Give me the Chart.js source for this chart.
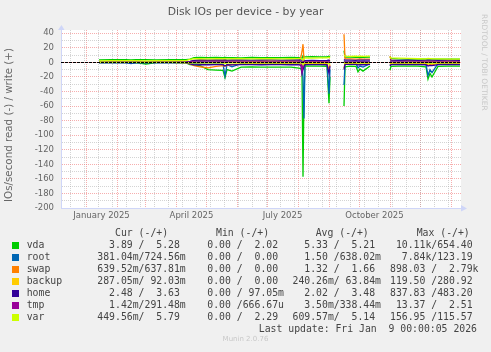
<!DOCTYPE html>
<html lang="en">
<head>
    <meta charset="UTF-8">
    <title>Disk IOs per device - by year</title>
    <script src="https://cdn.jsdelivr.net/npm/chart.js"></script>
    <style>
        html, body { margin: 0; padding: 0; background: #f0f0f0; }
        #wrap { position: relative; width: 491px; height: 352px; overflow: hidden; }
        #chart { position: absolute; left: 0; top: 0; }
        .leg { position: absolute; white-space: pre; font-family: 'DejaVu Sans Mono', monospace;
               font-size: 9.8px; line-height: 12px; color: #444; }
        .box { position: absolute; width: 7px; height: 7px; }
        #munin { position: absolute; left: 0; width: 491px; top: 335px; text-align: center;
                 font-family: 'DejaVu Sans', sans-serif; font-size: 7px; color: #c8c8c8; }
    </style>
</head>
<body>
<div id="wrap">
    <canvas id="chart" width="491" height="352"></canvas>
    <div id="legend"></div>
    <div id="munin">Munin 2.0.76</div>
</div>

<script>
    // days since 1 Jan 2025 (x positions of the samples), null rows = no data
    const days = [13, 25, 40, 45, 50, 60, 70, 85, 100, 104,
        108, 114, 122, 130, 137, 139, 141, 146, 155, 165, 175, 185, 195, 205, 213, 215,
        216, 217, 218,
        219, 226, 234, 241, 243, 244,
        245,
        258, 259, 264, 270, 272, 274, 277, 284,
        285,
        304, 305, 312, 322, 332, 340, 342, 344, 346, 352, 362, 374];

    // write (+) and read (-) per device
    const vdaWrite = [3.6, 3.8, 3.7, 3.6, 3.8, 3.7, 3.6, 3.8, 3.9, 4.6,
        6.6, 6.9, 6.5, 6.7, 6.4, 6.8, 6.5, 6.6, 6.3, 6.7, 6.5, 6.4, 6.6, 6.8, 6.5, 6.2,
        5.5, 9.0, 7.0,
        7.6, 7.9, 7.5, 7.7, 8.5, 7.6,
        null,
        16.0, 7.4, 7.2, 7.0, 6.8, 7.3, 7.1, 7.2,
        null,
        8.0, 5.4, 4.9, 4.6, 4.7, 4.5, 4.8, 4.6, 4.4, 4.6, 4.5, 4.6];
    const vdaRead = [-0.3, -0.3, -0.4, -0.5, -0.4, -2.2, -0.3, -0.4, -0.6, -3.0,
        -3.5, -4.5, -10.0, -10.5, -11.0, -21.0, -10.0, -12.0, -6.5, -6.3, -6.6, -6.4, -6.5, -6.5, -7.8, -8.6,
        -15.0, -157.0, -40.0,
        -5.0, -5.2, -5.0, -5.3, -56.0, -20.0,
        null,
        -60.0, -6.0, -5.0, -5.5, -13.0, -9.0, -12.0, -5.0,
        null,
        -10.7, -5.5, -5.0, -5.2, -5.0, -6.0, -23.0, -15.0, -20.0, -5.5, -5.0, -5.2];

    const rootWrite = [0.3, 0.3, 0.2, 0.3, 0.3, 0.3, 0.2, 0.3, 0.4, 0.8,
        1.0, 0.9, 0.8, 0.9, 1.0, 2.5, 0.9, 0.8, 0.7, 0.8, 0.7, 0.8, 0.7, 0.8, 0.9, 1.0,
        1.5, 3.0, 1.2,
        0.9, 0.8, 0.9, 0.8, 2.0, 1.0,
        null,
        2.5, 0.9, 0.8, 0.8, 1.5, 1.0, 1.2, 0.8,
        null,
        1.5, 0.7, 0.6, 0.6, 0.7, 0.8, 2.0, 1.2, 1.5, 0.7, 0.6, 0.7];
    const rootRead = [-0.2, -0.2, -0.3, -1.5, -0.3, -0.4, -0.2, -0.3, -0.4, -1.0,
        -1.5, -2.0, -2.5, -2.2, -2.5, -18.5, -3.0, -6.0, -1.8, -1.7, -1.9, -1.8, -1.7, -1.8, -2.0, -2.5,
        -3.0, -20.0, -77.0,
        -1.5, -1.6, -1.5, -1.7, -43.0, -10.0,
        null,
        -31.0, -1.8, -1.5, -1.7, -7.5, -5.0, -6.5, -1.6,
        null,
        -4.0, -1.6, -1.5, -1.4, -1.5, -2.5, -18.0, -10.0, -14.0, -1.6, -1.5, -1.5];

    const swapWrite = [0.1, 0.1, 0.1, 0.1, 0.1, 0.1, 0.1, 0.1, 0.2, 1.0,
        2.5, 3.0, 2.8, 2.6, 2.4, 3.5, 2.5, 2.2, 2.0, 1.8, 1.9, 2.0, 1.8, 1.9, 2.0, 8.0,
        15.0, 25.0, 3.0,
        2.0, 1.8, 1.9, 1.7, 3.0, 2.0,
        null,
        38.7, 5.0, 4.8, 4.6, 4.5, 4.7, 4.6, 4.5,
        null,
        8.5, 3.0, 2.5, 2.3, 2.2, 2.0, 2.4, 2.2, 2.1, 2.0, 1.9, 2.0];
    const swapRead = [-0.1, -0.1, -0.1, -0.1, -0.1, -0.1, -0.1, -0.1, -0.2, -2.0,
        -4.5, -6.0, -7.5, -5.5, -4.5, -5.0, -4.0, -3.0, -2.5, -2.0, -2.2, -2.4, -2.0, -2.2, -2.5, -3.0,
        -5.0, -8.0, -4.0,
        -1.5, -1.4, -1.5, -1.3, -10.0, -3.0,
        null,
        -8.0, -1.5, -1.4, -1.3, -3.0, -2.0, -2.5, -1.4,
        null,
        -3.0, -1.2, -1.1, -1.0, -1.1, -1.2, -4.0, -3.0, -3.5, -1.1, -1.0, -1.1];

    const backupWrite = [0.0, 0.0, 0.0, 0.0, 0.0, 0.0, 0.0, 0.0, 0.0, 0.1,
        0.1, 0.1, 0.1, 0.1, 0.1, 0.2, 0.1, 0.1, 0.1, 0.1, 0.1, 0.1, 0.1, 0.1, 0.1, 0.1,
        0.2, 0.3, 0.1,
        0.1, 0.1, 0.1, 0.1, 0.2, 0.1,
        null,
        0.3, 0.1, 0.1, 0.1, 0.1, 0.1, 0.1, 0.1,
        null,
        0.2, 0.1, 0.1, 0.1, 0.1, 0.1, 0.2, 0.1, 0.1, 0.1, 0.1, 0.1];
    const backupRead = [-0.1, -0.1, -0.1, -0.1, -0.1, -0.1, -0.1, -0.1, -0.1, -0.2,
        -0.3, -0.3, -0.2, -0.3, -0.2, -0.3, -0.2, -0.3, -0.2, -0.3, -0.2, -0.3, -0.2, -0.3, -0.2, -0.3,
        -0.5, -1.0, -0.3,
        -0.3, -0.2, -0.3, -0.2, -0.5, -0.3,
        null,
        -0.8, -0.3, -0.2, -0.3, -0.3, -0.2, -0.3, -0.2,
        null,
        -0.5, -0.3, -0.2, -0.3, -0.2, -0.3, -0.4, -0.3, -0.3, -0.2, -0.3, -0.3];

    const homeWrite = [0.3, 0.3, 0.4, 0.3, 0.3, 0.4, 0.3, 0.3, 0.5, 1.5,
        2.8, 3.3, 3.2, 3.4, 3.3, 3.6, 3.2, 3.3, 3.4, 3.2, 3.3, 3.4, 3.2, 3.3, 3.4, 3.3,
        3.0, 2.0, 1.0,
        2.5, 2.6, 2.5, 2.6, 3.0, 2.5,
        null,
        4.0, 3.0, 3.1, 2.9, 3.2, 3.0, 3.1, 3.0,
        null,
        4.0, 3.0, 2.9, 3.0, 2.8, 3.0, 3.2, 3.0, 3.1, 2.9, 3.0, 2.9];
    const homeRead = [-0.3, -0.3, -0.3, -0.4, -0.3, -0.3, -0.4, -0.3, -0.4, -2.0,
        -3.5, -3.0, -3.2, -3.0, -3.1, -5.0, -3.2, -3.5, -3.0, -3.1, -3.2, -3.0, -3.1, -3.2, -3.0, -5.0,
        -15.0, -10.0, -6.0,
        -3.0, -3.1, -3.0, -3.2, -15.0, -5.0,
        null,
        -10.0, -2.8, -2.6, -2.7, -3.5, -3.0, -3.2, -2.7,
        null,
        -5.0, -3.0, -2.9, -3.0, -3.1, -3.2, -5.0, -4.0, -4.5, -3.0, -2.9, -3.0];

    const tmpWrite = [0.0, 0.0, 0.0, 0.0, 0.0, 0.0, 0.0, 0.0, 0.1, 0.2,
        0.3, 0.4, 0.3, 0.3, 0.4, 0.3, 0.3, 0.4, 0.3, 0.3, 0.4, 0.3, 0.3, 0.4, 0.3, 0.3,
        0.4, 0.5, 0.3,
        0.3, 0.4, 0.3, 0.3, 0.5, 0.3,
        null,
        0.5, 0.3, 0.4, 0.3, 0.3, 0.4, 0.3, 0.3,
        null,
        0.5, 0.3, 0.3, 0.4, 0.3, 0.3, 0.4, 0.3, 0.3, 0.4, 0.3, 0.3];
    const tmpRead = [0.0, 0.0, 0.0, 0.0, 0.0, 0.0, 0.0, 0.0, 0.0, 0.0,
        0.0, 0.0, 0.0, 0.0, 0.0, 0.0, 0.0, 0.0, 0.0, 0.0, 0.0, 0.0, 0.0, 0.0, 0.0, 0.0,
        -13.0, -2.0, 0.0,
        0.0, 0.0, 0.0, 0.0, 0.0, 0.0,
        null,
        0.0, 0.0, 0.0, 0.0, 0.0, 0.0, 0.0, 0.0,
        null,
        0.0, 0.0, 0.0, 0.0, 0.0, 0.0, 0.0, 0.0, 0.0, 0.0, 0.0, 0.0];

    const varWrite = [2.2, 2.4, 2.3, 2.3, 2.4, 2.2, 2.3, 2.4, 2.5, 4.0,
        5.0, 5.2, 4.9, 5.1, 5.0, 5.3, 4.9, 5.0, 5.1, 4.8, 5.0, 5.2, 4.9, 5.0, 5.1, 5.3,
        4.0, 3.0, 5.0,
        6.2, 6.0, 6.3, 6.1, 7.0, 6.0,
        null,
        10.0, 8.5, 8.4, 8.6, 8.3, 8.5, 8.4, 8.5,
        null,
        7.0, 6.2, 5.8, 5.4, 5.0, 4.9, 5.5, 5.2, 5.0, 4.8, 4.6, 4.5];
    const varRead = [-0.1, -0.1, -0.1, -0.1, -0.1, -0.1, -0.1, -0.1, -0.2, -0.5,
        -0.6, -0.7, -0.6, -0.6, -0.7, -1.5, -0.6, -0.7, -0.6, -0.5, -0.6, -0.6, -0.5, -0.6, -0.6, -0.7,
        -1.0, -3.0, -1.0,
        -0.6, -0.5, -0.6, -0.6, -2.0, -0.8,
        null,
        -2.0, -0.6, -0.6, -0.5, -1.0, -0.8, -0.9, -0.6,
        null,
        -1.0, -0.6, -0.6, -0.5, -0.6, -0.6, -1.5, -1.0, -1.2, -0.6, -0.5, -0.6];

    const names = ['vda', 'root', 'swap', 'backup', 'home', 'tmp', 'var'];
    const colors = ['#00CC00', '#0066B3', '#FF8000', '#FFCC00', '#330099', '#990099', '#CCFF00'];
    const writes = [vdaWrite, rootWrite, swapWrite, backupWrite, homeWrite, tmpWrite, varWrite];
    const reads = [vdaRead, rootRead, swapRead, backupRead, homeRead, tmpRead, varRead];

    // legend table (as printed under the graph)
    const curText = ['  3.89 /  5.28 ', '381.04m/724.56m', '639.52m/637.81m', '287.05m/ 92.03m',
        '  2.48 /  3.63 ', '  1.42m/291.48m', '449.56m/  5.79 '];
    const minText = ['  0.00 /  2.02 ', '  0.00 /  0.00 ', '  0.00 /  0.00 ', '  0.00 /  0.00 ',
        '  0.00 / 97.05m', '  0.00 /666.67u', '  0.00 /  2.29 '];
    const avgText = ['  5.33 /  5.21 ', '  1.50 /638.02m', '  1.32 /  1.66 ', '240.26m/ 63.84m',
        '  2.02 /  3.48 ', '  3.50m/338.44m', '609.57m/  5.14 '];
    const maxText = [' 10.11k/654.40 ', '  7.84k/123.19 ', '898.03 /  2.79k', '119.50 /280.92 ',
        '837.83 /483.20 ', ' 13.37 /  2.51 ', '156.95 /115.57 '];
    const headers = ['Cur (-/+)', 'Min (-/+)', 'Avg (-/+)', 'Max (-/+)'];
    const lastUpdate = 'Last update: Fri Jan  9 00:00:05 2026';

    // x axis: month starts (red lines) and month labels
    const monthStarts = [0, 31, 59, 90, 120, 151, 181, 212, 243, 273, 304, 334, 365];
    const labelDays = [15.5, 105.5, 196.5, 288.5];
    const labelTexts = ['January 2025', 'April 2025', 'July 2025', 'October 2025'];

    const AXIS = '#CFD6F8';
    const MAJOR = 'rgba(240, 120, 120, 0.6)';
    const MINOR = 'rgba(170, 170, 170, 0.5)';

    // build datasets, later devices drawn on top
    const datasets = [];
    names.forEach((n, i) => {
        [reads[i], writes[i]].forEach((arr, k) => {
            datasets.push({
                label: n + (k ? ' write' : ' read'),
                data: arr,
                borderColor: colors[i],
                backgroundColor: colors[i],
                borderWidth: 1.3,
                pointRadius: 0,
                tension: 0,
                spanGaps: false,
                order: 100 - datasets.length
            });
        });
    });

    const deco = {
        id: 'deco',
        beforeDraw(chart) {
            const {ctx, chartArea: a} = chart;
            ctx.save();
            ctx.fillStyle = '#f0f0f0';
            ctx.fillRect(0, 0, chart.width, chart.height);
            ctx.fillStyle = '#ffffff';
            ctx.fillRect(a.left, a.top, a.right - a.left, a.bottom - a.top);
            ctx.restore();
        },
        afterDatasetsDraw(chart) {
            const {ctx, chartArea: a} = chart;
            const y0 = Math.round(chart.scales.y.getPixelForValue(0)) + 0.5;
            ctx.save();
            ctx.strokeStyle = '#000';
            ctx.lineWidth = 1;
            ctx.setLineDash([3, 1]);
            ctx.beginPath();
            ctx.moveTo(a.left, y0);
            ctx.lineTo(a.right, y0);
            ctx.stroke();
            ctx.restore();
        },
        afterDraw(chart) {
            const {ctx, chartArea: a} = chart;
            ctx.save();
            // axis arrows
            ctx.fillStyle = AXIS;
            ctx.beginPath();
            ctx.moveTo(a.left - 3, a.top);
            ctx.lineTo(a.left + 3.5, a.top);
            ctx.lineTo(a.left + 0.5, a.top - 5);
            ctx.closePath();
            ctx.fill();
            ctx.beginPath();
            ctx.moveTo(a.right, a.bottom - 3);
            ctx.lineTo(a.right, a.bottom + 3.5);
            ctx.lineTo(a.right + 6, a.bottom + 0.5);
            ctx.closePath();
            ctx.fill();
            // title
            ctx.fillStyle = '#555';
            ctx.textAlign = 'center';
            ctx.textBaseline = 'middle';
            ctx.font = '10.8px "DejaVu Sans"';
            ctx.fillText('Disk IOs per device - by year', 245.5, 12);
            // vertical axis title
            ctx.save();
            ctx.translate(9.5, 125);
            ctx.rotate(-Math.PI / 2);
            ctx.font = '10.3px "DejaVu Sans"';
            ctx.fillStyle = '#666';
            ctx.fillText('IOs/second read (-) / write (+)', 0, 0);
            ctx.restore();
            // rrdtool watermark on the right
            ctx.save();
            ctx.translate(484, 14);
            ctx.rotate(Math.PI / 2);
            ctx.textAlign = 'left';
            ctx.font = '7.5px "DejaVu Sans"';
            ctx.fillStyle = '#c8c8c8';
            ctx.fillText('RRDTOOL / TOBI OETIKER', 0, 0);
            ctx.restore();
            ctx.restore();
        }
    };

    new Chart(document.getElementById('chart'), {
        type: 'line',
        data: { labels: days, datasets: datasets },
        options: {
            responsive: false,
            animation: false,
            devicePixelRatio: 1,
            layout: { padding: { left: 0, top: 30, right: 30, bottom: 128 } },
            plugins: { legend: { display: false }, tooltip: { enabled: false } },
            scales: {
                x: {
                    type: 'linear',
                    min: -25,
                    max: 375,
                    afterFit(s) { s.height = 16; },
                    afterBuildTicks(s) {
                        const t = [];
                        monthStarts.forEach(v => t.push({ value: v, kind: 'major' }));
                        for (let d = -16; d <= 375; d += 14) t.push({ value: d, kind: 'minor' });
                        labelDays.forEach((v, i) => t.push({ value: v, kind: 'label', txt: labelTexts[i] }));
                        t.sort((p, q) => p.value - q.value);
                        s.ticks = t;
                    },
                    ticks: {
                        autoSkip: false,
                        maxRotation: 0,
                        padding: 3,
                        color: '#666',
                        font: { family: 'DejaVu Sans', size: 8.5 },
                        callback: (v, i, ticks) => ticks[i].kind === 'label' ? ticks[i].txt : ''
                    },
                    grid: {
                        drawTicks: false,
                        color: c => c.tick && c.tick.kind === 'major' ? MAJOR
                            : (c.tick && c.tick.kind === 'minor' ? MINOR : 'rgba(0,0,0,0)')
                    },
                    border: { color: AXIS, width: 1, dash: [1, 1] }
                },
                y: {
                    min: -200,
                    max: 44.5,
                    afterFit(s) { s.width = 61; },
                    ticks: {
                        stepSize: 10,
                        includeBounds: false,
                        autoSkip: false,
                        padding: 7,
                        color: '#666',
                        font: { family: 'DejaVu Sans', size: 8.5 },
                        callback: v => (v % 20 === 0 ? String(v) : '')
                    },
                    grid: {
                        drawTicks: false,
                        color: c => c.tick && c.tick.value % 20 === 0 ? MAJOR : MINOR
                    },
                    border: { color: AXIS, width: 1, dash: [1, 1] }
                }
            }
        },
        plugins: [deco]
    });

    // legend rows under the graph
    const leg = document.getElementById('legend');
    function put(txt, x, y, extra) {
        const d = document.createElement('div');
        d.className = 'leg';
        d.textContent = txt;
        d.style.left = x + 'px';
        d.style.top = y + 'px';
        if (extra) Object.assign(d.style, extra);
        leg.appendChild(d);
    }
    const headX = [115, 216, 315.7, 416.7];
    headers.forEach((h, i) => put(h, headX[i], 226.5));
    const colX = [97.3, 195.5, 292.5, 390];
    names.forEach((n, i) => {
        const y = 239 + i * 12;
        const b = document.createElement('div');
        b.className = 'box';
        b.style.left = '12px';
        b.style.top = (y + 2.5) + 'px';
        b.style.background = colors[i];
        leg.appendChild(b);
        put(n, 26.7, y);
        [curText, minText, avgText, maxText].forEach((col, k) => put(col[i], colX[k], y));
    });
    put(lastUpdate, 0, 323, { left: 'auto', right: (491 - 477) + 'px' });
</script>
</body>
</html>
